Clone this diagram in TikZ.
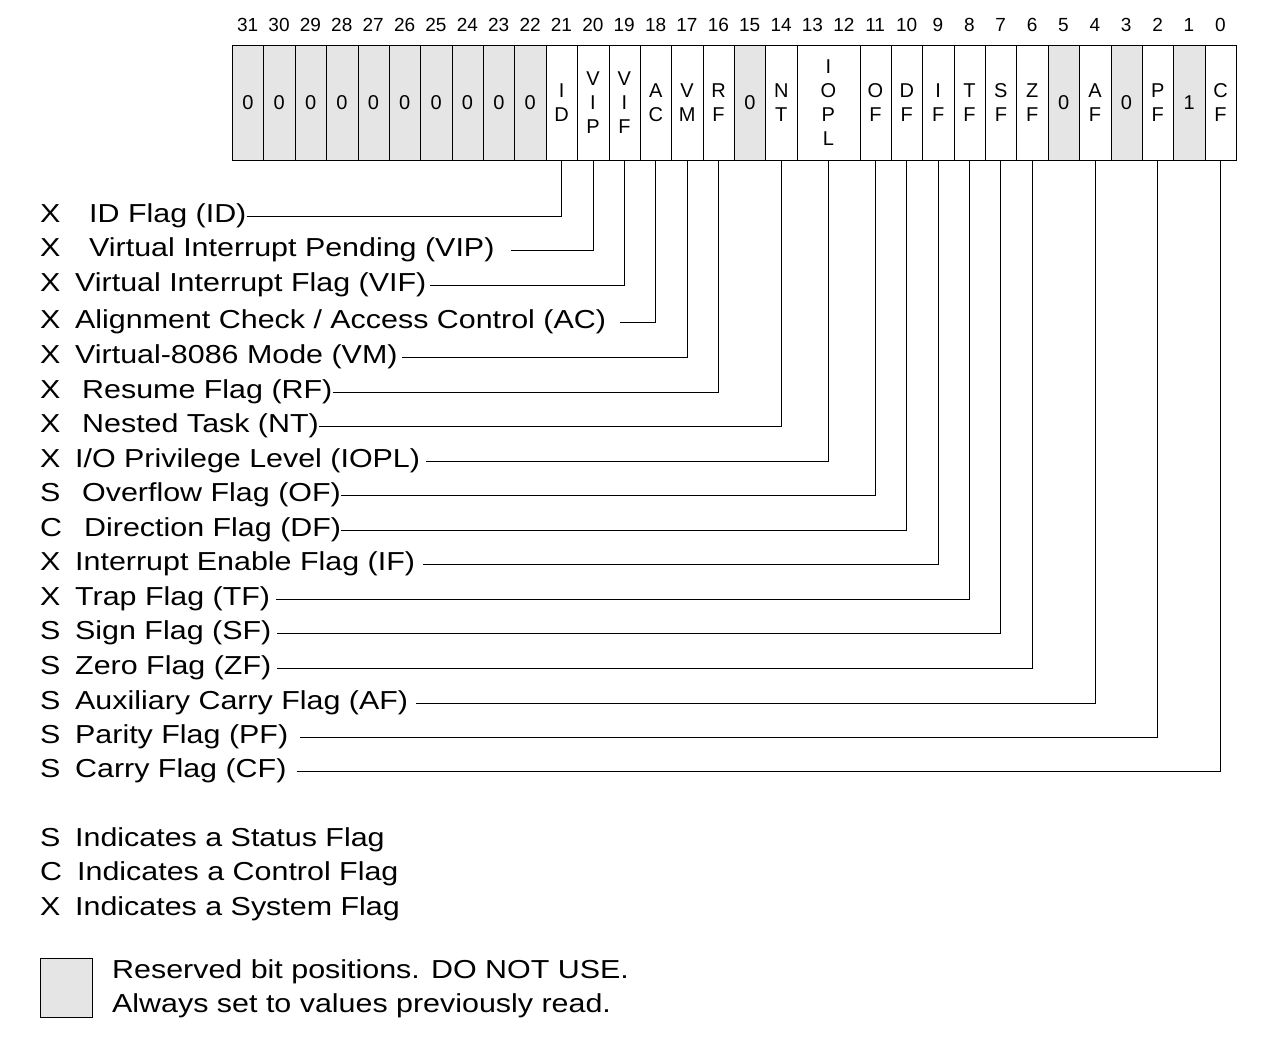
\documentclass[tikz,border=0pt]{standalone}
\usepackage{fontspec}
\setmainfont{Liberation Sans}
\newfontfamily\lblfont{Liberation Sans}[FakeStretch=1.17]
\begin{document}
\begin{tikzpicture}[x=1pt,y=-1pt,
    cell/.style={draw, minimum height=115pt, inner sep=0pt, anchor=north west, align=center, font=\fontsize{20}{24}\selectfont},
    bitno/.style={font=\fontsize{19}{22}\selectfont},
    lbl/.style={anchor=west, inner sep=0pt, text height=18pt, text depth=5pt, font=\lblfont\fontsize{26}{30}\selectfont}]
    \useasboundingbox (0,0) rectangle (1288,1042);
    \def\w{31.375}

    % bit numbers
    \foreach \b in {0,...,31}
        \node (no\b) [bitno] at ({232+(31-\b+0.5)*\w},25) {\b};

    % reserved high bits
    \foreach \b in {31,...,22}
        \node (cell\b) [cell, fill=black!10, minimum width=\w pt] at ({232+(31-\b)*\w},45) {0};

    % flag cells
    \foreach \b/\t/\n/\f in {21/{I\\D}/1/white, 20/{V\\I\\P}/1/white, 19/{V\\I\\F}/1/white,
        18/{A\\C}/1/white, 17/{V\\M}/1/white, 16/{R\\F}/1/white, 15/0/1/black!10,
        14/{N\\T}/1/white, 13/{I\\O\\P\\L}/2/white, 11/{O\\F}/1/white, 10/{D\\F}/1/white,
        9/{I\\F}/1/white, 8/{T\\F}/1/white, 7/{S\\F}/1/white, 6/{Z\\F}/1/white,
        5/0/1/black!10, 4/{A\\F}/1/white, 3/0/1/black!10, 2/{P\\F}/1/white,
        1/1/1/black!10, 0/{C\\F}/1/white}
        \node (cell\b) [cell, fill=\f, minimum width=\n*\w pt] at ({232+(31-\b)*\w},45) {\t};

    % flag descriptions
    \foreach \b/\k/\x/\y/\g/\t in {21/X/89/216/0/{ID Flag (ID)}, 20/X/89/250/16/{Virtual Interrupt Pending (VIP)},
        19/X/75/285/4/{Virtual Interrupt Flag (VIF)}, 18/X/75/322/14/{Alignment Check / Access Control (AC)},
        17/X/75/357/4/{Virtual-8086 Mode (VM)}, 16/X/82/392/0/{Resume Flag (RF)}, 14/X/82/426/0/{Nested Task (NT)},
        13/X/75/461/6/{I/O Privilege Level (IOPL)}, 11/S/82/495/0/{Overflow Flag (OF)}, 10/C/84/530/0/{Direction Flag (DF)},
        9/X/75/564/8/{Interrupt Enable Flag (IF)}, 8/X/75/599/6/{Trap Flag (TF)}, 7/S/75/633/6/{Sign Flag (SF)},
        6/S/75/668/6/{Zero Flag (ZF)}, 4/S/75/703/8/{Auxiliary Carry Flag (AF)}, 2/S/75/737/12/{Parity Flag (PF)},
        0/S/75/771/10/{Carry Flag (CF)}} {
        \node (kind\b) [lbl] at (40,\y) {\k};
        \node (lbl\b) [lbl] at (\x,\y) {\t};
        \draw [line width=0.8pt] ([xshift=\g pt]lbl\b.east) -| (cell\b.south);
    }

    % legend
    \node (legs) [lbl] at (40,840) {S};
    \node (legst) [lbl] at (75,840) {Indicates a Status Flag};
    \node (legc) [lbl] at (40,874) {C};
    \node (legct) [lbl] at (77,874) {Indicates a Control Flag};
    \node (legx) [lbl] at (40,909) {X};
    \node (legxt) [lbl] at (75,909) {Indicates a System Flag};
    \node (rsvd) [draw, fill=black!10, minimum width=52pt, minimum height=59pt, anchor=north west] at (40,958) {};
    \node (rsvdt) [lbl, align=left, text height=, text depth=, font=\lblfont\fontsize{26}{34}\selectfont] at (112,989)
        {Reserved bit positions. DO NOT USE.\\Always set to values previously read.};
\end{tikzpicture}
\end{document}
